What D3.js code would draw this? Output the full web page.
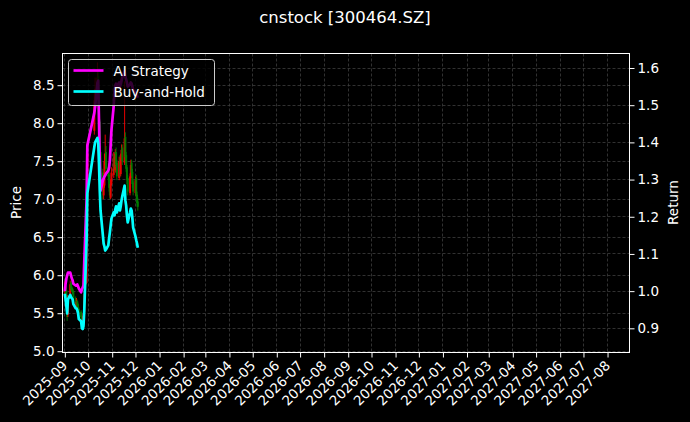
<!DOCTYPE html>
<html>
<head>
<meta charset="utf-8">
<script src="https://cdn.jsdelivr.net/npm/d3@7"></script>
<style>
  html, body { margin: 0; padding: 0; background: #000; }
  svg { display: block; font-family: "DejaVu Sans", sans-serif; }
</style>
</head>
<body>
<div id="chart"></div>
<script>
// trading days shown on the chart
var dates = [
  "2025-09-01","2025-09-02","2025-09-03","2025-09-04","2025-09-05",
  "2025-09-08","2025-09-09","2025-09-10","2025-09-11","2025-09-12",
  "2025-09-15","2025-09-16","2025-09-17","2025-09-18","2025-09-19",
  "2025-09-22","2025-09-23","2025-09-24","2025-09-25","2025-09-26",
  "2025-09-29","2025-09-30",
  "2025-10-09","2025-10-10",
  "2025-10-13","2025-10-14","2025-10-15","2025-10-16","2025-10-17",
  "2025-10-20","2025-10-21","2025-10-22","2025-10-23","2025-10-24",
  "2025-10-27","2025-10-28","2025-10-29","2025-10-30","2025-10-31",
  "2025-11-03","2025-11-04","2025-11-05","2025-11-06","2025-11-07",
  "2025-11-10","2025-11-11","2025-11-12","2025-11-13","2025-11-14",
  "2025-11-17","2025-11-18","2025-11-19","2025-11-20","2025-11-21",
  "2025-11-24","2025-11-25","2025-11-26","2025-11-27","2025-11-28",
  "2025-12-01","2025-12-02","2025-12-03","2025-12-04"
];

var openP = [
  5.78,5.86,5.80,5.70,5.48, 5.72,5.90,5.83,5.82,5.78, 5.70,5.60,5.66,5.62,5.56,
  5.52,5.46,5.38,5.44,5.52, 5.90,7.00,
  7.90,8.20, 8.45,8.62,8.35,8.02,7.62, 7.35,7.05,7.18,7.45,7.62, 7.42,7.32,7.18,7.02,7.20,
  7.32,7.58,7.38,7.62,7.48, 7.28,7.52,7.33,7.55,7.68, 7.48,7.82,7.58,7.42,7.28,
  7.08,7.28,7.48,7.36,7.22, 7.08,7.28,7.06,6.97
];
var highP = [
  5.92,5.90,5.84,5.74,5.74, 5.93,5.92,5.86,5.84,5.80, 5.72,5.70,5.68,5.64,5.58,
  5.54,5.48,5.46,5.54,5.80, 6.95,7.75,
  8.45,8.60, 8.80,8.70,8.40,8.05,7.70, 7.40,7.28,7.60,7.85,7.70, 7.48,7.36,7.22,7.26,7.42,
  7.62,7.62,7.66,7.68,7.52, 7.56,7.58,7.60,7.72,7.72, 8.55,7.88,7.62,7.45,7.32,
  7.34,7.52,7.52,7.40,7.25, 7.30,7.32,7.10,7.02
];
var lowP = [
  5.74,5.76,5.68,5.40,5.45, 5.70,5.80,5.78,5.75,5.68, 5.58,5.58,5.58,5.52,5.46,
  5.42,5.36,5.35,5.42,5.50, 5.88,6.95,
  7.85,8.15, 8.40,8.35,7.95,7.55,7.25, 7.00,7.00,7.15,7.40,7.35, 7.25,7.10,7.00,7.00,7.18,
  7.28,7.35,7.35,7.42,7.25, 7.25,7.30,7.30,7.50,7.45, 7.45,7.50,7.36,7.20,7.05,
  7.05,7.25,7.30,7.15,7.05, 7.05,7.00,6.90,6.85
];
var closeP = [
  5.85,5.80,5.72,5.45,5.70, 5.88,5.82,5.80,5.78,5.70, 5.62,5.65,5.60,5.55,5.50,
  5.45,5.40,5.42,5.50,5.75, 6.90,7.60,
  8.30,8.45, 8.60,8.40,8.00,7.60,7.30, 7.10,7.20,7.50,7.60,7.40, 7.30,7.15,7.05,7.20,7.35,
  7.55,7.40,7.60,7.45,7.30, 7.50,7.35,7.55,7.65,7.50, 7.80,7.55,7.40,7.25,7.10,
  7.30,7.45,7.35,7.20,7.10, 7.25,7.05,6.95,6.90
];

// cumulative returns
var aiReturn = [
  1.000,1.020,1.034,1.042,1.050, 1.050,1.042,1.034,1.029,1.020, 1.015,1.015,1.018,1.013,1.007,
  0.997,1.005,1.010,1.015,1.077, 1.244,1.392,
  1.480,1.496, 1.560,1.566,1.459,1.350,1.270, 1.298,1.303,1.308,1.311,1.316, 1.324,1.332,1.351,1.392,1.432,
  1.499,1.540,1.553,1.558,1.550, 1.561,1.550,1.556,1.566,1.574, 1.593,1.577,1.569,1.561,1.550,
  1.556,1.561,1.558,1.550,1.540, 1.534,1.529,1.526,1.520
];
var bhReturn = [
  0.993,0.978,0.960,0.940,0.978, 0.990,0.984,0.981,0.978,0.965, 0.954,0.954,0.949,0.941,0.925,
  0.919,0.900,0.898,0.906,0.946, 1.136,1.263,
  1.388,1.400, 1.412,1.400,1.343,1.271,1.217, 1.150,1.128,1.120,1.109,1.112, 1.123,1.142,1.158,1.177,1.195,
  1.212,1.204,1.220,1.228,1.212, 1.236,1.217,1.228,1.244,1.255, 1.284,1.244,1.230,1.203,1.185,
  1.212,1.222,1.217,1.196,1.171, 1.147,1.137,1.128,1.117
];

var priceTicks = [5.0, 5.5, 6.0, 6.5, 7.0, 7.5, 8.0, 8.5];
var returnTicks = [0.9, 1.0, 1.1, 1.2, 1.3, 1.4, 1.5, 1.6];
var title = "cnstock [300464.SZ]";

var W = 690, H = 422;
var mrg = { top: 53, right: 61, bottom: 70, left: 62 },
    w = W - mrg.left - mrg.right,
    h = H - mrg.top - mrg.bottom;

var parse = d3.timeParse("%Y-%m-%d");
var rows = dates.map(function (d, i) {
  return { date: parse(d), o: openP[i], hi: highP[i], lo: lowP[i], c: closeP[i],
           ai: aiReturn[i], bh: bhReturn[i] };
});

var svg = d3.select("#chart").append("svg")
  .attr("width", W).attr("height", H);
svg.append("rect").attr("width", W).attr("height", H).attr("fill", "#000");

var chart = svg.append("g")
  .attr("transform", `translate(${mrg.left + 0.5}, ${mrg.top + 0.5})`);

var xScale = d3.scaleTime()
  .domain([new Date(2025, 7, 29), new Date(2027, 7, 29, 7)])
  .range([0, w]);
var yPrice = d3.scaleLinear().domain([4.983, 8.917]).range([h, 0]);
var yRet = d3.scaleLinear().domain([0.835, 1.639]).range([h, 0]);

var monthTicks = d3.timeMonth.range(new Date(2025, 8, 1), new Date(2027, 8, 1));

// grid
var grid = chart.append("g")
  .attr("stroke", "#3e3e3e").attr("stroke-width", 0.8)
  .attr("stroke-dasharray", "3,2");
grid.selectAll(".gx").data(monthTicks).enter().append("line")
  .attr("x1", function (d) { return Math.round(xScale(d)); })
  .attr("x2", function (d) { return Math.round(xScale(d)); })
  .attr("y1", 0).attr("y2", h);
grid.selectAll(".gy").data(priceTicks).enter().append("line")
  .attr("x1", 0).attr("x2", w)
  .attr("y1", function (d) { return Math.round(yPrice(d)); })
  .attr("y2", function (d) { return Math.round(yPrice(d)); });
grid.selectAll(".gr").data(returnTicks).enter().append("line")
  .attr("x1", 0).attr("x2", w)
  .attr("y1", function (d) { return Math.round(yRet(d)); })
  .attr("y2", function (d) { return Math.round(yRet(d)); });

// candles
var plot = chart.append("g");
var candles = plot.selectAll(".candle").data(rows).enter().append("g")
  .attr("opacity", 0.9);
candles.append("line")
  .attr("x1", function (d) { return xScale(d.date); })
  .attr("x2", function (d) { return xScale(d.date); })
  .attr("y1", function (d) { return yPrice(d.hi); })
  .attr("y2", function (d) { return yPrice(d.lo); })
  .attr("stroke", function (d) { return d.c >= d.o ? "#ff0000" : "#008000"; })
  .attr("stroke-width", 1);
candles.append("rect")
  .attr("x", function (d) { return xScale(d.date) - 1; })
  .attr("width", 2)
  .attr("y", function (d) { return yPrice(Math.max(d.o, d.c)); })
  .attr("height", function (d) { return Math.max(0.6, Math.abs(yPrice(d.o) - yPrice(d.c))); })
  .attr("fill", function (d) { return d.c >= d.o ? "#ff0000" : "#008000"; });

// return lines
var aiLine = d3.line().x(function (d) { return xScale(d.date); }).y(function (d) { return yRet(d.ai); });
var bhLine = d3.line().x(function (d) { return xScale(d.date); }).y(function (d) { return yRet(d.bh); });
plot.append("path").datum(rows).attr("d", aiLine)
  .attr("fill", "none").attr("stroke", "#ff00ff").attr("stroke-width", 2.7)
  .attr("stroke-linejoin", "round");
plot.append("path").datum(rows).attr("d", bhLine)
  .attr("fill", "none").attr("stroke", "#00ffff").attr("stroke-width", 2.7)
  .attr("stroke-linejoin", "round");

// axes
var fmt = d3.format(".1f");
var xAxis = chart.append("g")
  .attr("transform", `translate(0, ${h})`)
  .call(d3.axisBottom(xScale).tickValues(monthTicks).tickFormat(d3.timeFormat("%Y-%m"))
    .tickSizeInner(5).tickSizeOuter(0).tickPadding(3));
xAxis.selectAll("text")
  .attr("text-anchor", "end")
  .attr("dy", null).attr("y", null)
  .attr("transform", "translate(3, 14) rotate(-45)");

var yAxisL = chart.append("g")
  .call(d3.axisLeft(yPrice).tickValues(priceTicks).tickFormat(fmt)
    .tickSizeInner(5).tickSizeOuter(0).tickPadding(3));
var yAxisR = chart.append("g")
  .attr("transform", `translate(${w}, 0)`)
  .call(d3.axisRight(yRet).tickValues(returnTicks).tickFormat(fmt)
    .tickSizeInner(5).tickSizeOuter(0).tickPadding(3));

[xAxis, yAxisL, yAxisR].forEach(function (a) {
  a.select(".domain").remove();
  a.selectAll("line").attr("stroke", "#fff").attr("stroke-width", 1);
  a.selectAll("text").attr("fill", "#fff").style("font-size", "13.5px")
    .style("font-family", "DejaVu Sans");
});

// frame
chart.append("rect").attr("width", w).attr("height", h)
  .attr("fill", "none").attr("stroke", "#fff").attr("stroke-width", 1);

// legend
var leg = chart.append("g").attr("transform", "translate(6, 6)");
leg.append("rect").attr("width", 146).attr("height", 46).attr("rx", 3)
  .attr("fill", "#000").attr("fill-opacity", 0.8)
  .attr("stroke", "#ccc").attr("stroke-width", 1);
var legItems = [
  { label: "AI Strategy", color: "#ff00ff" },
  { label: "Buy-and-Hold", color: "#00ffff" }
];
legItems.forEach(function (it, i) {
  var y = 11 + i * 21;
  leg.append("line").attr("x1", 5).attr("x2", 35).attr("y1", y).attr("y2", y)
    .attr("stroke", it.color).attr("stroke-width", 2.7);
  leg.append("text").attr("x", 45).attr("y", y + 5)
    .attr("fill", "#fff").style("font-size", "13.5px").text(it.label);
});

// labels
svg.append("text").attr("x", W / 2).attr("y", 23)
  .attr("text-anchor", "middle").attr("fill", "#fff")
  .style("font-size", "16.5px").text(title);
svg.append("text")
  .attr("transform", `translate(21, ${mrg.top + h / 2}) rotate(-90)`)
  .attr("text-anchor", "middle").attr("fill", "#fff")
  .style("font-size", "13.5px").text("Price");
svg.append("text")
  .attr("transform", `translate(678, ${mrg.top + h / 2}) rotate(-90)`)
  .attr("text-anchor", "middle").attr("fill", "#fff")
  .style("font-size", "13.5px").text("Return");
</script>
</body>
</html>
